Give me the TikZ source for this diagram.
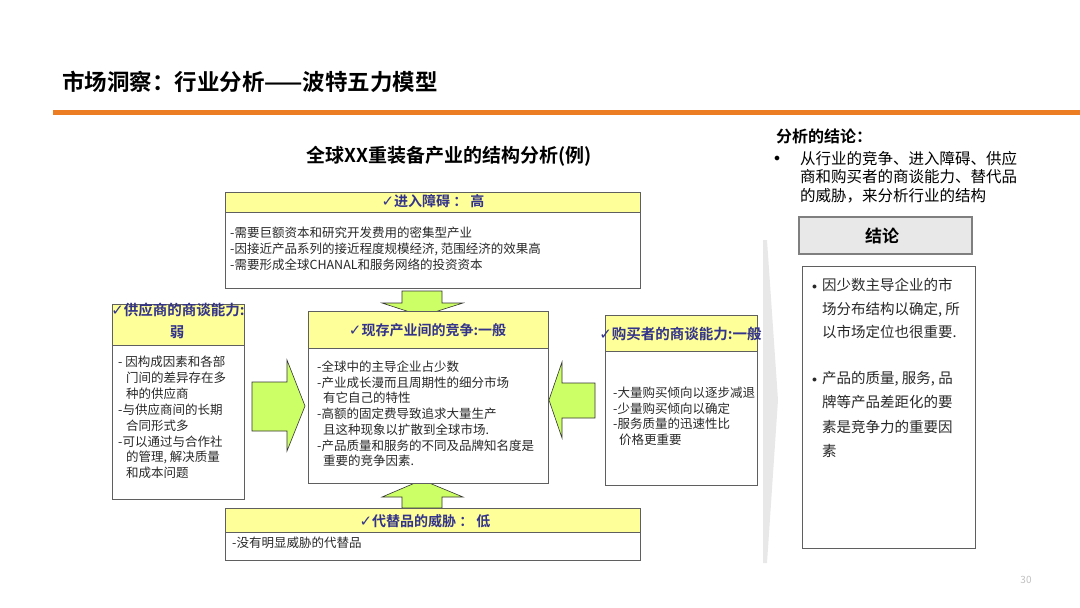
\documentclass[tikz,border=0pt]{standalone}
\usepackage{fontspec}
\setmainfont{Noto Sans CJK SC}[BoldFont={Noto Sans CJK SC Bold}]
\newfontfamily\symf{DejaVu Sans}
\definecolor{hdrblue}{RGB}{51,51,140}
\definecolor{yellowfill}{RGB}{255,255,153}
\definecolor{greenfill}{RGB}{204,255,102}
\definecolor{boxline}{RGB}{95,95,95}
\definecolor{orangeline}{RGB}{237,125,35}
\definecolor{txt}{RGB}{40,40,40}
\newcommand{\chk}{{\symf\fontsize{15}{16}\selectfont ✓}}
\begin{document}
\begin{tikzpicture}[x=1pt,y=-1pt,
  box/.style={draw=boxline,line width=1pt,fill=white,inner sep=0,rectangle},
  hdr/.style={draw=boxline,line width=1pt,fill=yellowfill,inner sep=0,rectangle},
  hdrtext/.style={font=\fontsize{14}{16}\selectfont\bfseries,text=hdrblue,inner sep=0,anchor=base},
  body/.style={font=\fontsize{12.5}{15}\selectfont,text=txt,inner sep=0,anchor=base west},
  concl/.style={font=\fontsize{14.5}{16}\selectfont,text=txt,inner sep=0,anchor=base west},
  blockarrow/.style={fill=greenfill,draw=black!80,line width=0.6pt,line join=miter}]
\useasboundingbox (0,0) rectangle (1080,608);

% title
\node[font=\fontsize{22.5}{25}\selectfont\bfseries,inner sep=0,anchor=base west] (title) at (62,90) {市场洞察：行业分析——波特五力模型};
\draw[orangeline,line width=4.5pt] (53,112.5) -- (1080,112.5);

% subtitle
\node[font=\fontsize{19}{21}\selectfont\bfseries,inner sep=0,anchor=base] (sub) at (449,162.5) {全球XX重装备产业的结构分析(例)};

% block arrows (behind boxes)
\draw[blockarrow] (402,291) -- (442,291) -- (442,303) -- (463,303) -- (422,316) -- (382,303) -- (402,303) -- cycle;
\draw[blockarrow] (402,508) -- (442,508) -- (442,497) -- (463,497) -- (422,480) -- (382,497) -- (402,497) -- cycle;
\draw[blockarrow] (252,382) -- (287,382) -- (287,360) -- (305,406) -- (287,451) -- (287,431) -- (252,431) -- cycle;
\draw[blockarrow] (595,383) -- (562,383) -- (562,362) -- (549,400) -- (562,438) -- (562,418) -- (595,418) -- cycle;

% top box: entry barriers
\node[box,minimum width=415,minimum height=96,anchor=north west] (top) at (225,192) {};
\node[hdr,minimum width=415,minimum height=20,anchor=north west] (toph) at (225,192) {};
\node[hdrtext] (topt) at (433,206.3) {\chk 进入障碍 ： 高};
\foreach \t [count=\i] in {{-需要巨额资本和研究开发费用的密集型产业},{-因接近产品系列的接近程度规模经济, 范围经济的效果高},{-需要形成全球CHANAL和服务网络的投资资本}}
  \node[body] (tl\i) at (230,{237.5+16*(\i-1)}) {\t};

% center box: rivalry
\node[box,minimum width=240,minimum height=172,anchor=north west] (mid) at (308,311) {};
\node[hdr,minimum width=240,minimum height=37,anchor=north west] (midh) at (308,311) {};
\node[hdrtext] (midt) at (427.5,335.3) {\chk 现存产业间的竞争:一般};
\foreach \t [count=\i] in {{-全球中的主导企业占少数},{-产业成长漫而且周期性的细分市场},{\hspace*{6pt}有它自己的特性},{-高额的固定费导致追求大量生产},{\hspace*{6pt}且这种现象以扩散到全球市场.},{-产品质量和服务的不同及品牌知名度是},{\hspace*{6pt}重要的竞争因素.}}
  \node[body] (ml\i) at (317,{371.5+15.7*(\i-1)}) {\t};

% left box: suppliers
\node[box,minimum width=132,minimum height=195,anchor=north west] (lft) at (112,304) {};
\node[hdr,minimum width=132,minimum height=41,anchor=north west] (lfth) at (112,304) {};
\node[hdrtext,font=\fontsize{14.5}{16}\selectfont\bfseries] (lftt1) at (178,315.3) {\chk 供应商的商谈能力:};
\node[hdrtext,font=\fontsize{14.5}{16}\selectfont\bfseries] (lftt2) at (177,337.3) {弱};
\foreach \t [count=\i] in {{- 因构成因素和各部},{\hspace*{8pt}门间的差异存在多},{\hspace*{8pt}种的供应商},{-与供应商间的长期},{\hspace*{8pt}合同形式多},{-可以通过与合作社},{\hspace*{8pt}的管理, 解决质量},{\hspace*{8pt}和成本问题}}
  \node[body] (ll\i) at (118,{366.5+15.9*(\i-1)}) {\t};

% right box: buyers
\node[box,minimum width=152,minimum height=170,anchor=north west] (rgt) at (605,315) {};
\node[hdr,minimum width=152,minimum height=36,anchor=north west] (rgth) at (605,315) {};
\node[hdrtext,font=\fontsize{14.5}{16}\selectfont\bfseries] (rgtt) at (680.5,339.3) {\chk 购买者的商谈能力:一般};
\foreach \t [count=\i] in {{-大量购买倾向以逐步减退},{-少量购买倾向以确定},{-服务质量的迅速性比},{\hspace*{6pt}价格更重要}}
  \node[body] (rl\i) at (613,{397.5+15.7*(\i-1)}) {\t};

% bottom box: substitutes
\node[box,minimum width=415,minimum height=52,anchor=north west] (bot) at (225,508) {};
\node[hdr,minimum width=415,minimum height=24,anchor=north west] (both) at (225,508) {};
\node[hdrtext] (bott) at (425,526.3) {\chk 代替品的威胁 ： 低};
\node[body] (bl1) at (232,547.5) {-没有明显威胁的代替品};

% grey chevron
\fill[gray!18] (763,240) -- (767,240) -- (778,400) -- (767,563) -- (763,563) -- cycle;

% right panel
\node[font=\fontsize{16}{18}\selectfont\bfseries,inner sep=0,anchor=base west] (rh) at (776,142) {分析的结论：};
\node[inner sep=0,anchor=base west,scale=1.2] (rb) at (774,161) {$\bullet$};
\foreach \t [count=\i] in {{从行业的竞争、进入障碍、供应},{商和购买者的商谈能力、替代品},{的威胁，来分析行业的结构}}
  \node[font=\fontsize{15.5}{18}\selectfont,inner sep=0,anchor=base west] (rt\i) at (800,{164+18.5*(\i-1)}) {\t};

\node[draw=boxline!80,line width=1.5pt,fill=gray!18,minimum width=173,minimum height=37,anchor=north west,inner sep=0] (jl) at (798,216) {};
\node[font=\fontsize{17}{19}\selectfont\bfseries,inner sep=0,anchor=base] (jlt) at (882,242.5) {结论};

\node[box,minimum width=173,minimum height=282,anchor=north west] (cb) at (802,266) {};
\node[inner sep=0,anchor=base west,text=txt] (cb1) at (812,289) {$\bullet$};
\node[inner sep=0,anchor=base west,text=txt] (cb2) at (812,382) {$\bullet$};
\foreach \t [count=\i] in {{因少数主导企业的市},{场分布结构以确定, 所},{以市场定位也很重要.}}
  \node[concl] (ca\i) at (822,{290.5+23.5*(\i-1)}) {\t};
\foreach \t [count=\i] in {{产品的质量, 服务, 品},{牌等产品差距化的要},{素是竞争力的重要因},{素}}
  \node[concl] (cc\i) at (822,{383.5+24.3*(\i-1)}) {\t};

% page number
\node[font=\fontsize{10}{12}\selectfont,text=gray!50,inner sep=0,anchor=base] (pg) at (1026,583.5) {30};
\end{tikzpicture}
\end{document}
